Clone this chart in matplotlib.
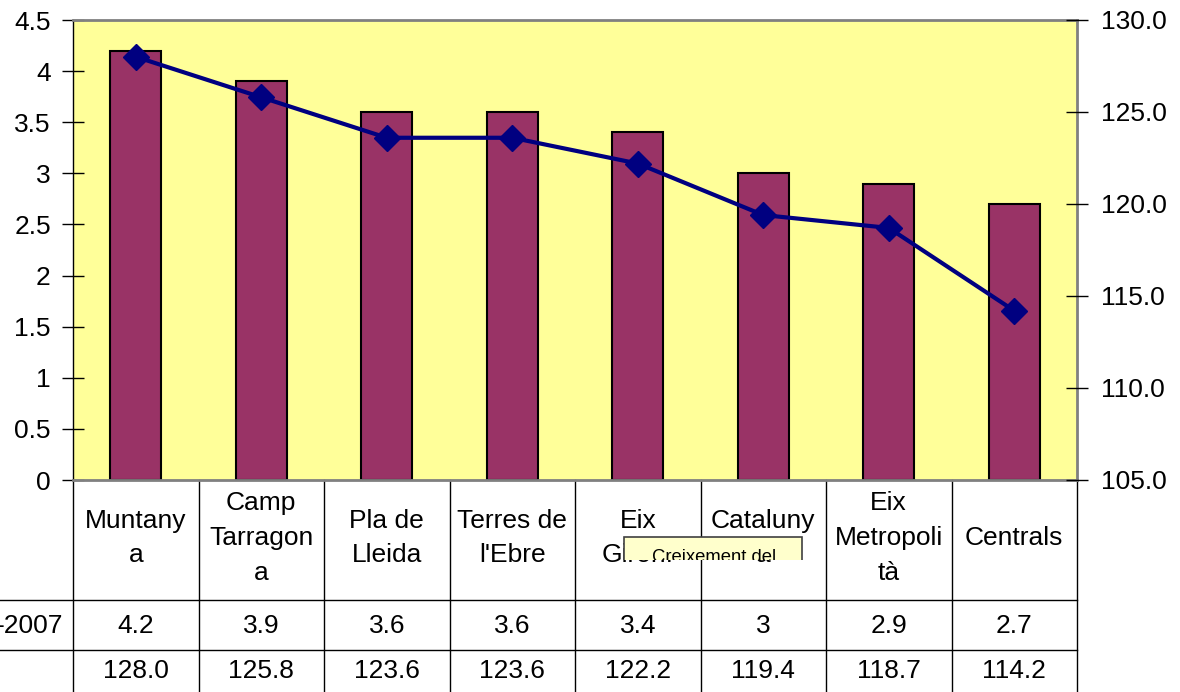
import numpy as np
import matplotlib
matplotlib.use('Agg')
import matplotlib.pyplot as plt
from matplotlib.ticker import FixedLocator, FuncFormatter
from matplotlib.transforms import blended_transform_factory
from matplotlib.patches import Rectangle

plt.rcParams['font.family'] = ['Liberation Sans', 'DejaVu Sans']

# dades
comarques = ['Muntany\na', 'Camp\nTarragon\na', 'Pla de\nLleida', "Terres de\nl'Ebre",
             'Eix\nGironí', 'Cataluny\na', 'Eix\nMetropoli\ntà', 'Centrals']
creixement = [4.2, 3.9, 3.6, 3.6, 3.4, 3.0, 2.9, 2.7]
index_val = [128.0, 125.8, 123.6, 123.6, 122.2, 119.4, 118.7, 114.2]
creixement_txt = ['4.2', '3.9', '3.6', '3.6', '3.4', '3', '2.9', '2.7']
fila_label = '-2007'
tooltip_txt = 'Creixement del'

W, H = 1180, 692
FS = 19
fig = plt.figure(figsize=(W / 100, H / 100), dpi=100)

def fx(px):
    return px / W

def fy(py):
    return 1 - py / H

ax = fig.add_axes([fx(73), fy(480), fx(1077) - fx(73), fy(20) - fy(480)])
ax.set_facecolor('#FFFF99')
x = np.arange(len(comarques))

ax.bar(x, creixement, width=0.41, color='#993366', edgecolor='black', linewidth=1.5, zorder=2)
ax.set_xlim(-0.5, len(comarques) - 0.5)
ax.set_ylim(0, 4.5)
ax.yaxis.set_major_locator(FixedLocator(np.arange(0, 4.51, 0.5)))
ax.yaxis.set_major_formatter(FuncFormatter(lambda v, p: '%g' % v))
ax.set_xticks([])
ax.tick_params(axis='y', direction='inout', length=16, width=1, labelsize=FS, pad=8)
for s in ['top', 'right', 'bottom']:
    ax.spines[s].set_color('#808080')
    ax.spines[s].set_linewidth(2)
ax.spines['left'].set_color('black')
ax.spines['left'].set_linewidth(1)

ax2 = ax.twinx()
ax2.plot(x, index_val, color='#000080', linewidth=3, marker='D', markersize=13,
         markerfacecolor='#000080', markeredgecolor='#000080', zorder=3)
ax2.set_ylim(105, 130)
ax2.yaxis.set_major_locator(FixedLocator(np.arange(105, 130.1, 5)))
ax2.yaxis.set_major_formatter(FuncFormatter(lambda v, p: '%.1f' % v))
ax2.tick_params(axis='y', direction='inout', length=16, width=1, labelsize=FS, pad=9)
for s in ['top', 'right', 'bottom', 'left']:
    ax2.spines[s].set_visible(False)

# taula de dades sota el gràfic
tr = blended_transform_factory(ax.transData, fig.transFigure)
edges = np.arange(len(comarques) + 1) - 0.5
for e in edges:
    ax.plot([e, e], [fy(480), 0], color='black', linewidth=1, transform=tr, clip_on=False)
for ypx in [600, 650]:
    ax.plot([-0.5 - 73 / 125.5, edges[-1]], [fy(ypx), fy(ypx)], color='black', linewidth=1,
            transform=tr, clip_on=False)

for i, name in enumerate(comarques):
    ax.text(i, fy(538), name, ha='center', va='center', fontsize=FS, linespacing=1.56,
            transform=tr, clip_on=False)
    ax.text(i, fy(626), creixement_txt[i], ha='center', va='center', fontsize=FS,
            transform=tr, clip_on=False)
    ax.text(i, fy(671), '%.1f' % index_val[i], ha='center', va='center', fontsize=FS,
            transform=tr, clip_on=False)
fig.text(fx(63), fy(626), fila_label, ha='right', va='center', fontsize=FS)

# etiqueta emergent (retallada per sota)
clip = Rectangle((fx(623), fy(560)), fx(803) - fx(623), fy(536) - fy(560),
                 transform=fig.transFigure, facecolor='none', edgecolor='none')
fig.add_artist(clip)
rect = Rectangle((fx(624), fy(590)), fx(802) - fx(624), fy(537) - fy(590),
                 transform=fig.transFigure, facecolor='#FFFFCC', edgecolor='#404040',
                 linewidth=1.2, zorder=5)
fig.add_artist(rect)
rect.set_clip_path(clip)
t = fig.text(fx(714), fy(562), tooltip_txt, ha='center', va='baseline', fontsize=13.3,
             zorder=6)
t.set_clip_path(clip)

fig.savefig('out.png', dpi=100)
